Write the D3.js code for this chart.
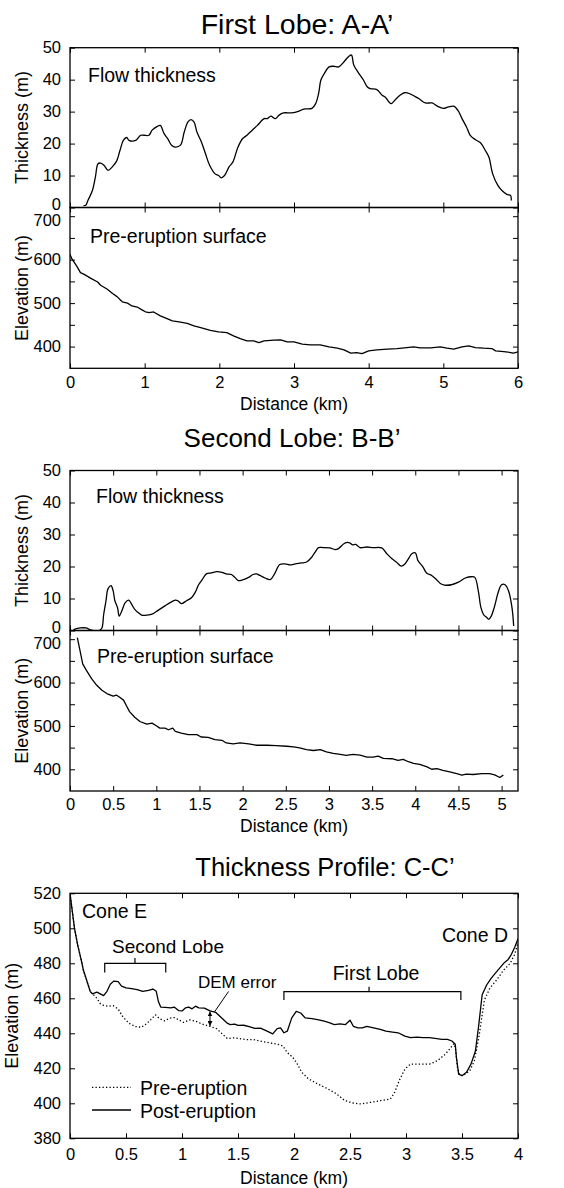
<!DOCTYPE html>
<html>
<head>
<meta charset="utf-8">
<script src="https://cdn.jsdelivr.net/npm/d3@7"></script>
<style>
  body { margin: 0; background: #fff; }
  text { font-family: "Liberation Sans", Arial, Helvetica, sans-serif; fill: #000; }
</style>
</head>
<body>
<script>
// ---- data: [distance km, value] ----
const lobe1Thickness = [[0.18,0.6],[0.21,0.7],[0.24,2.2],[0.30,5.3],[0.34,9.5],[0.375,13.7],[0.41,13.9],[0.455,13.2],[0.51,11.6],[0.566,12.7],[0.624,14.5],[0.67,17.9],[0.714,21],[0.76,21.9],[0.79,21],[0.88,21],[0.946,22.6],[0.99,22.6],[1.057,22.6],[1.10,24.2],[1.17,25.4],[1.21,25.7],[1.26,23.1],[1.31,21.5],[1.36,19.5],[1.41,18.9],[1.48,19.5],[1.53,23.6],[1.58,26.8],[1.62,27.5],[1.66,26.8],[1.70,23.6],[1.76,20.5],[1.815,16.8],[1.87,13.2],[1.94,10.6],[1.99,10.0],[2.025,9.3],[2.07,10],[2.13,12.7],[2.18,14.2],[2.25,18.9],[2.31,21.5],[2.37,22.6],[2.44,24.2],[2.51,25.7],[2.60,27.8],[2.64,27.8],[2.69,28.6],[2.75,27.8],[2.80,28.9],[2.86,29.6],[2.97,29.6],[3.06,30.1],[3.13,30.8],[3.24,31],[3.29,32.5],[3.33,35.7],[3.36,39.9],[3.40,41.7],[3.47,44],[3.53,44.2],[3.60,44],[3.67,45.6],[3.73,47.2],[3.77,47.7],[3.80,44.6],[3.87,41.9],[3.93,39.9],[3.98,37.8],[4.02,37.2],[4.11,36.9],[4.18,35.1],[4.22,34.6],[4.30,32.5],[4.36,33.8],[4.42,35.1],[4.48,35.9],[4.56,35.5],[4.67,34.1],[4.76,32.7],[4.85,32.7],[4.92,31.7],[5.0,31],[5.07,31.5],[5.14,31.7],[5.2,30.2],[5.25,27.8],[5.31,25.2],[5.36,22.6],[5.43,21.2],[5.50,20.2],[5.56,17.9],[5.61,15.8],[5.66,10.6],[5.73,6.9],[5.785,5.3],[5.85,4.1],[5.90,3.8],[5.91,2.2]];

const lobe1Elevation = [[0,612],[0.03,600.5],[0.09,585],[0.14,570],[0.19,566],[0.28,557],[0.37,548.5],[0.41,541],[0.50,532],[0.57,522],[0.63,515],[0.70,503],[0.77,500],[0.83,493.5],[0.90,491],[0.97,484],[1.01,480],[1.06,478],[1.12,479.6],[1.21,470.5],[1.30,464.5],[1.37,459],[1.46,456.7],[1.57,453.6],[1.66,447.5],[1.75,443.7],[1.88,437.5],[1.99,433.7],[2.10,432.2],[2.19,424.5],[2.28,418.4],[2.37,413],[2.46,413],[2.53,409.3],[2.60,413],[2.73,414.6],[2.82,415.4],[2.91,410.8],[3.0,410.8],[3.11,405.4],[3.22,404],[3.35,404],[3.47,399.3],[3.58,396.2],[3.67,392.4],[3.76,384.8],[3.84,386.3],[3.91,384],[4.0,390.1],[4.11,392.4],[4.25,394],[4.38,395.5],[4.51,397.8],[4.60,399.3],[4.69,397],[4.83,397],[4.96,399.3],[5.05,396.2],[5.14,393.9],[5.25,399.3],[5.34,401.6],[5.43,397.8],[5.54,396.2],[5.65,395.5],[5.70,390.1],[5.81,388.6],[5.90,386.3],[5.94,384.8],[6.0,387.8]];

const lobe2Thickness = [[0.04,0.3],[0.12,0.8],[0.185,0.8],[0.23,0.3],[0.29,-0.2],[0.34,0],[0.37,0.8],[0.39,5],[0.417,9.3],[0.44,13],[0.475,14],[0.50,12.4],[0.52,9.3],[0.55,7.2],[0.57,4.5],[0.60,6.1],[0.64,8.7],[0.68,9.5],[0.71,8.4],[0.75,6.6],[0.79,5.6],[0.83,4.8],[0.89,4.8],[0.965,5.3],[1.02,6.3],[1.10,7.7],[1.16,8.7],[1.22,9.5],[1.25,9.3],[1.29,8.4],[1.35,9.3],[1.41,10.3],[1.45,11.9],[1.49,14.3],[1.53,15.8],[1.58,17.7],[1.64,18],[1.70,18.4],[1.76,18.2],[1.81,17.7],[1.87,17.5],[1.91,16.6],[1.95,15.6],[2.0,15.8],[2.07,16.6],[2.12,17.5],[2.16,17.7],[2.20,17.2],[2.26,16.4],[2.32,15.9],[2.37,17.7],[2.43,20.6],[2.49,20.8],[2.55,20.5],[2.61,20.8],[2.68,21.1],[2.74,21.4],[2.80,22.9],[2.84,24.5],[2.88,25.9],[2.93,25.9],[3.01,25.8],[3.07,25.3],[3.11,25.6],[3.15,26.6],[3.19,27.4],[3.24,27.4],[3.27,26.8],[3.31,26.9],[3.36,25.9],[3.44,26.1],[3.51,25.9],[3.61,25.8],[3.67,24],[3.73,22.4],[3.78,21.4],[3.84,20.1],[3.88,20.8],[3.92,22.4],[3.96,24],[4.0,24.3],[4.03,21.9],[4.09,19.8],[4.13,18],[4.19,17.2],[4.25,15.8],[4.29,14.7],[4.34,14.2],[4.42,14.3],[4.50,15.1],[4.58,16.4],[4.65,16.8],[4.69,16.6],[4.73,12.4],[4.76,7.2],[4.79,5],[4.83,4],[4.85,3.5],[4.88,4.5],[4.92,7.7],[4.96,11.9],[5.0,14.3],[5.04,14.3],[5.08,12.4],[5.12,7.2],[5.14,1.4]];

const lobe2Elevation = [[0.085,703.8],[0.116,673.4],[0.147,643],[0.19,628],[0.25,609],[0.31,593.7],[0.37,582.3],[0.44,573.2],[0.50,568.6],[0.54,570.9],[0.58,565.6],[0.62,559.5],[0.66,544.3],[0.69,533],[0.75,520],[0.81,510.2],[0.89,504.1],[0.95,506.4],[1.0,500.3],[1.04,495],[1.10,495],[1.14,491.2],[1.19,495],[1.22,487.4],[1.29,483.6],[1.37,479.8],[1.47,479.8],[1.52,474.5],[1.60,473.7],[1.68,468.4],[1.76,466.9],[1.81,460.8],[1.89,458.5],[1.97,460.8],[2.07,458.5],[2.16,455.5],[2.28,455.5],[2.39,454.7],[2.51,453.2],[2.59,451.7],[2.66,449.4],[2.74,445.6],[2.82,443.4],[2.90,445.6],[2.97,440.3],[3.05,436.5],[3.13,434.2],[3.20,432],[3.28,434.2],[3.36,432.7],[3.44,428.2],[3.51,428.2],[3.57,430.5],[3.63,425.1],[3.73,424.4],[3.80,420.6],[3.86,422.9],[3.92,417.5],[3.98,413.7],[4.05,411.5],[4.13,406.1],[4.19,400.1],[4.25,401.6],[4.32,397.8],[4.40,394],[4.48,390.2],[4.54,386.4],[4.59,388.7],[4.67,388],[4.77,390.2],[4.86,390.2],[4.92,387.1],[4.98,381.1],[5.02,387.1]];

const profilePre = [[0,520],[0.02,510],[0.04,500],[0.07,490],[0.1,482],[0.12,476],[0.15,470],[0.18,464],[0.21,462],[0.24,460],[0.27,457],[0.30,456],[0.34,455.5],[0.385,455.8],[0.43,453.9],[0.47,449.6],[0.525,445.8],[0.58,443.9],[0.637,443.4],[0.68,445.3],[0.72,447.7],[0.763,450.5],[0.80,448.3],[0.846,447.1],[0.888,448.6],[0.93,449],[0.972,447.7],[1.014,446.2],[1.07,447.7],[1.126,446.8],[1.18,445.3],[1.25,443.9],[1.31,442.6],[1.36,439.6],[1.405,437],[1.46,437.4],[1.517,437],[1.57,436.4],[1.64,436.4],[1.70,435.5],[1.78,434.6],[1.85,433.8],[1.90,432.8],[1.94,429],[1.99,426.2],[2.03,422.4],[2.07,417.7],[2.13,413.9],[2.21,411.1],[2.30,408.3],[2.38,405.4],[2.45,401.7],[2.52,400.2],[2.60,399.6],[2.68,400.5],[2.77,401.5],[2.86,402.4],[2.90,406.4],[2.94,413],[2.99,419.6],[3.04,422.4],[3.12,422.4],[3.21,422.4],[3.28,424.3],[3.35,428],[3.40,431.8],[3.43,434.1],[3.445,430],[3.46,420],[3.48,416],[3.51,415.8],[3.57,418.6],[3.61,424.3],[3.65,437.5],[3.70,459],[3.75,466],[3.81,470.5],[3.87,476],[3.93,480],[3.97,485],[4.0,492]];

const profilePost = [[0,520],[0.02,510],[0.04,500],[0.07,490],[0.1,482],[0.12,476],[0.15,470],[0.18,464],[0.2,462.5],[0.24,463.5],[0.27,462.5],[0.3,461.5],[0.33,464],[0.36,468],[0.39,469.8],[0.43,469.5],[0.46,467],[0.5,466],[0.55,465.5],[0.6,465],[0.65,464],[0.7,464.5],[0.74,465.3],[0.77,464],[0.79,458],[0.81,455],[0.85,454.8],[0.9,454.5],[0.93,455],[0.97,453],[1.0,452.8],[1.03,454.5],[1.06,455],[1.09,454],[1.12,455.5],[1.15,454.5],[1.2,454.4],[1.25,452.8],[1.3,452],[1.35,449],[1.4,446],[1.43,445],[1.47,445.3],[1.5,444.5],[1.55,444.6],[1.6,443.8],[1.65,442.8],[1.7,443],[1.75,441.5],[1.81,439.7],[1.85,442.7],[1.88,443.1],[1.91,440.3],[1.94,441.2],[1.98,448.8],[2.02,452.5],[2.06,451.6],[2.10,448.8],[2.16,448.4],[2.21,447.8],[2.27,446.9],[2.32,446],[2.36,445],[2.41,445.4],[2.46,445],[2.50,447.5],[2.53,444],[2.57,443.1],[2.61,443.1],[2.65,444],[2.71,443.1],[2.77,442.2],[2.82,441.2],[2.88,440.7],[2.93,440.3],[2.99,438.4],[3.04,437.5],[3.10,437.8],[3.15,437.5],[3.21,437.5],[3.26,437.1],[3.32,436.5],[3.37,436.5],[3.41,435.6],[3.44,433.7],[3.45,426.2],[3.47,416.7],[3.50,415.8],[3.54,417.7],[3.58,422.4],[3.62,429.9],[3.65,445],[3.68,462],[3.72,467.6],[3.76,471.4],[3.8,474.5],[3.84,477.5],[3.88,480.5],[3.91,482],[3.94,485],[3.97,489],[4.0,494]];

// tick values
const kmTicks6 = [0, 1, 2, 3, 4, 5, 6];
const kmTicks5 = [0, 0.5, 1, 1.5, 2, 2.5, 3, 3.5, 4, 4.5, 5];
const kmTicks4 = [0, 0.5, 1, 1.5, 2, 2.5, 3, 3.5, 4];
const thickTicks = [0, 10, 20, 30, 40, 50];
const elevTicks = [400, 450, 500, 550, 600, 650, 700];
const profileTicks = [380, 400, 420, 440, 460, 480, 500, 520];

const width = 564, height = 1188;
const plotLeft = 70, plotRight = 518;
const tickLen = 5;

const svg = d3.select("body").append("svg")
  .attr("width", width)
  .attr("height", height);

let clipId = 0;

// one boxed panel with inward ticks on all four sides
function panel(opt) {
  const x = d3.scaleLinear().domain(opt.xDomain).range([plotLeft, plotRight]);
  const y = d3.scaleLinear().domain(opt.yDomain).range([opt.bottom, opt.top]);
  const g = svg.append("g");

  const bottomAxis = d3.axisBottom(x).tickValues(opt.xTicks)
    .tickSizeInner(-tickLen).tickSizeOuter(0).tickPadding(opt.xPad || 7.5)
    .tickFormat(opt.xLabels ? d => d : "");
  const topAxis = d3.axisTop(x).tickValues(opt.xTicks)
    .tickSizeInner(-tickLen).tickSizeOuter(0).tickFormat("");
  const leftAxis = d3.axisLeft(y).tickValues(opt.yTicks)
    .tickSizeInner(-tickLen).tickSizeOuter(0).tickPadding(9)
    .tickFormat(opt.yFormat || (d => d));
  const rightAxis = d3.axisRight(y).tickValues(opt.yTicks)
    .tickSizeInner(-tickLen).tickSizeOuter(0).tickFormat("");

  const axes = [
    g.append("g").attr("transform", `translate(0,${opt.bottom})`).call(bottomAxis),
    g.append("g").attr("transform", `translate(0,${opt.top})`).call(topAxis),
    g.append("g").attr("transform", `translate(${plotLeft},0)`).call(leftAxis),
    g.append("g").attr("transform", `translate(${plotRight},0)`).call(rightAxis)
  ];
  axes.forEach(a => {
    a.select(".domain").remove();
    a.selectAll("line").attr("stroke", "#000").attr("stroke-width", 1);
    a.selectAll("text").attr("font-size", 16.5).attr("fill", "#000")
      .attr("font-family", '"Liberation Sans", Arial, sans-serif');
  });

  // stacked panels share a border: nudge the end labels apart
  if (opt.yNudge) {
    axes[2].selectAll("text").attr("y", d => opt.yNudge[d] || 0);
  }

  g.append("rect")
    .attr("x", plotLeft).attr("y", opt.top)
    .attr("width", plotRight - plotLeft).attr("height", opt.bottom - opt.top)
    .attr("fill", "none").attr("stroke", "#000").attr("stroke-width", 1.3);

  const id = "clip" + (clipId++);
  svg.append("clipPath").attr("id", id).append("rect")
    .attr("x", plotLeft).attr("y", opt.top)
    .attr("width", plotRight - plotLeft).attr("height", opt.bottom - opt.top);
  const plot = g.append("g").attr("clip-path", `url(#${id})`);

  return { x, y, g, plot };
}

function drawLine(p, data, curve, dash) {
  const line = d3.line().x(d => p.x(d[0])).y(d => p.y(d[1])).curve(curve);
  p.plot.append("path")
    .datum(data)
    .attr("d", line)
    .attr("fill", "none")
    .attr("stroke", "#000")
    .attr("stroke-width", 1.3)
    .attr("stroke-dasharray", dash || null)
    .attr("stroke-linejoin", "round");
}

function label(x, y, txt, size, anchor) {
  return svg.append("text")
    .attr("x", x).attr("y", y)
    .attr("font-size", size)
    .attr("text-anchor", anchor || "start")
    .text(txt);
}

function yLabel(x, yMid, txt) {
  svg.append("text")
    .attr("transform", `translate(${x},${yMid}) rotate(-90)`)
    .attr("text-anchor", "middle")
    .attr("font-size", 18)
    .text(txt);
}

const elevFormat = d => (d % 100 === 0 ? d : "");

// ---- First Lobe: A-A' ----
label(297, 34, "First Lobe: A-A\u2019", 28.5, "middle");
const p1t = panel({ xDomain: [0, 6], yDomain: [0, 50], top: 47.7, bottom: 207.5,
  xTicks: kmTicks6, yTicks: thickTicks, xLabels: false, yNudge: { 0: -3 } });
drawLine(p1t, lobe1Thickness, d3.curveCatmullRom.alpha(0.5));
label(88, 82, "Flow thickness", 19.5);
yLabel(28, 127.6, "Thickness (m)");

const p1e = panel({ xDomain: [0, 6], yDomain: [350, 720], top: 207.5, bottom: 368.3,
  xTicks: kmTicks6, yTicks: elevTicks, xLabels: true, yFormat: elevFormat, yNudge: { 700: 4 } });
drawLine(p1e, lobe1Elevation, d3.curveLinear);
label(90, 243, "Pre-eruption surface", 19.5);
yLabel(28, 288, "Elevation (m)");
label(294, 410, "Distance (km)", 17.5, "middle");

// ---- Second Lobe: B-B' ----
label(292, 447, "Second Lobe: B-B\u2019", 26, "middle");
const p2t = panel({ xDomain: [0, 5.19], yDomain: [0, 50], top: 470.5, bottom: 630.5,
  xTicks: kmTicks5, yTicks: thickTicks, xLabels: false, yNudge: { 0: -3 } });
drawLine(p2t, lobe2Thickness, d3.curveCatmullRom.alpha(0.5));
label(96, 503, "Flow thickness", 19.5);
yLabel(28, 550.5, "Thickness (m)");

const p2e = panel({ xDomain: [0, 5.19], yDomain: [350, 720], top: 630.5, bottom: 791,
  xTicks: kmTicks5, yTicks: elevTicks, xLabels: true, yFormat: elevFormat, yNudge: { 700: 4 } });
drawLine(p2e, lobe2Elevation, d3.curveLinear);
label(97, 663, "Pre-eruption surface", 19.5);
yLabel(28, 710.7, "Elevation (m)");
label(294, 832, "Distance (km)", 17.5, "middle");

// ---- Thickness Profile: C-C' ----
label(325, 876, "Thickness Profile: C-C\u2019", 25.5, "middle");
const p3 = panel({ xDomain: [0, 4], yDomain: [380, 520], top: 893.3, bottom: 1138.3,
  xTicks: kmTicks4, yTicks: profileTicks, xLabels: true, xPad: 10 });
drawLine(p3, profilePre, d3.curveLinear, "1.3,2.2");
drawLine(p3, profilePost, d3.curveLinear);
yLabel(18, 1015.8, "Elevation (m)");
label(294, 1184, "Distance (km)", 17.5, "middle");

label(82, 918, "Cone E", 19.5);
label(508, 942, "Cone D", 19.5, "end");
label(112, 953, "Second Lobe", 19);
label(376, 980, "First Lobe", 19.5, "middle");
label(198, 988, "DEM error", 17);

// brackets drawn in data coordinates
function bracket(x0, x1, xc, v, vEnd, vTop) {
  const pts = [[x0, vEnd], [x0, v], [x1, v], [x1, vEnd]];
  const line = d3.line().x(d => p3.x(d[0])).y(d => p3.y(d[1]));
  p3.g.append("path").attr("d", line(pts))
    .attr("fill", "none").attr("stroke", "#000").attr("stroke-width", 1.2);
  p3.g.append("line")
    .attr("x1", p3.x(xc)).attr("x2", p3.x(xc))
    .attr("y1", p3.y(v)).attr("y2", p3.y(vTop))
    .attr("stroke", "#000").attr("stroke-width", 1.2);
}
bracket(0.31, 0.855, 0.58, 480, 474.8, 483);
bracket(1.91, 3.49, 2.67, 463.8, 459, 466.6);

// DEM error pointer and double arrow
svg.append("defs").append("marker")
  .attr("id", "head").attr("viewBox", "0 0 10 10")
  .attr("refX", 10).attr("refY", 5)
  .attr("markerWidth", 5).attr("markerHeight", 5)
  .attr("orient", "auto-start-reverse")
  .append("path").attr("d", "M0,0L10,5L0,10z").attr("fill", "#000");

p3.g.append("line")
  .attr("x1", 228.5).attr("y1", 991.5)
  .attr("x2", p3.x(1.29)).attr("y2", p3.y(452.2))
  .attr("stroke", "#000").attr("stroke-width", 1);
p3.g.append("line")
  .attr("x1", p3.x(1.25)).attr("x2", p3.x(1.25))
  .attr("y1", p3.y(452.5)).attr("y2", p3.y(444.2))
  .attr("stroke", "#000").attr("stroke-width", 1)
  .attr("marker-start", "url(#head)").attr("marker-end", "url(#head)");

// legend
const legend = [
  { name: "Pre-eruption", dash: "1.3,2.2", y: 1087.3 },
  { name: "Post-eruption", dash: null, y: 1110 }
];
legend.forEach(l => {
  svg.append("line")
    .attr("x1", 92).attr("x2", 131).attr("y1", l.y).attr("y2", l.y)
    .attr("stroke", "#000").attr("stroke-width", 1.3)
    .attr("stroke-dasharray", l.dash);
  label(140, l.y + 7.5, l.name, 19.5);
});
</script>
</body>
</html>
